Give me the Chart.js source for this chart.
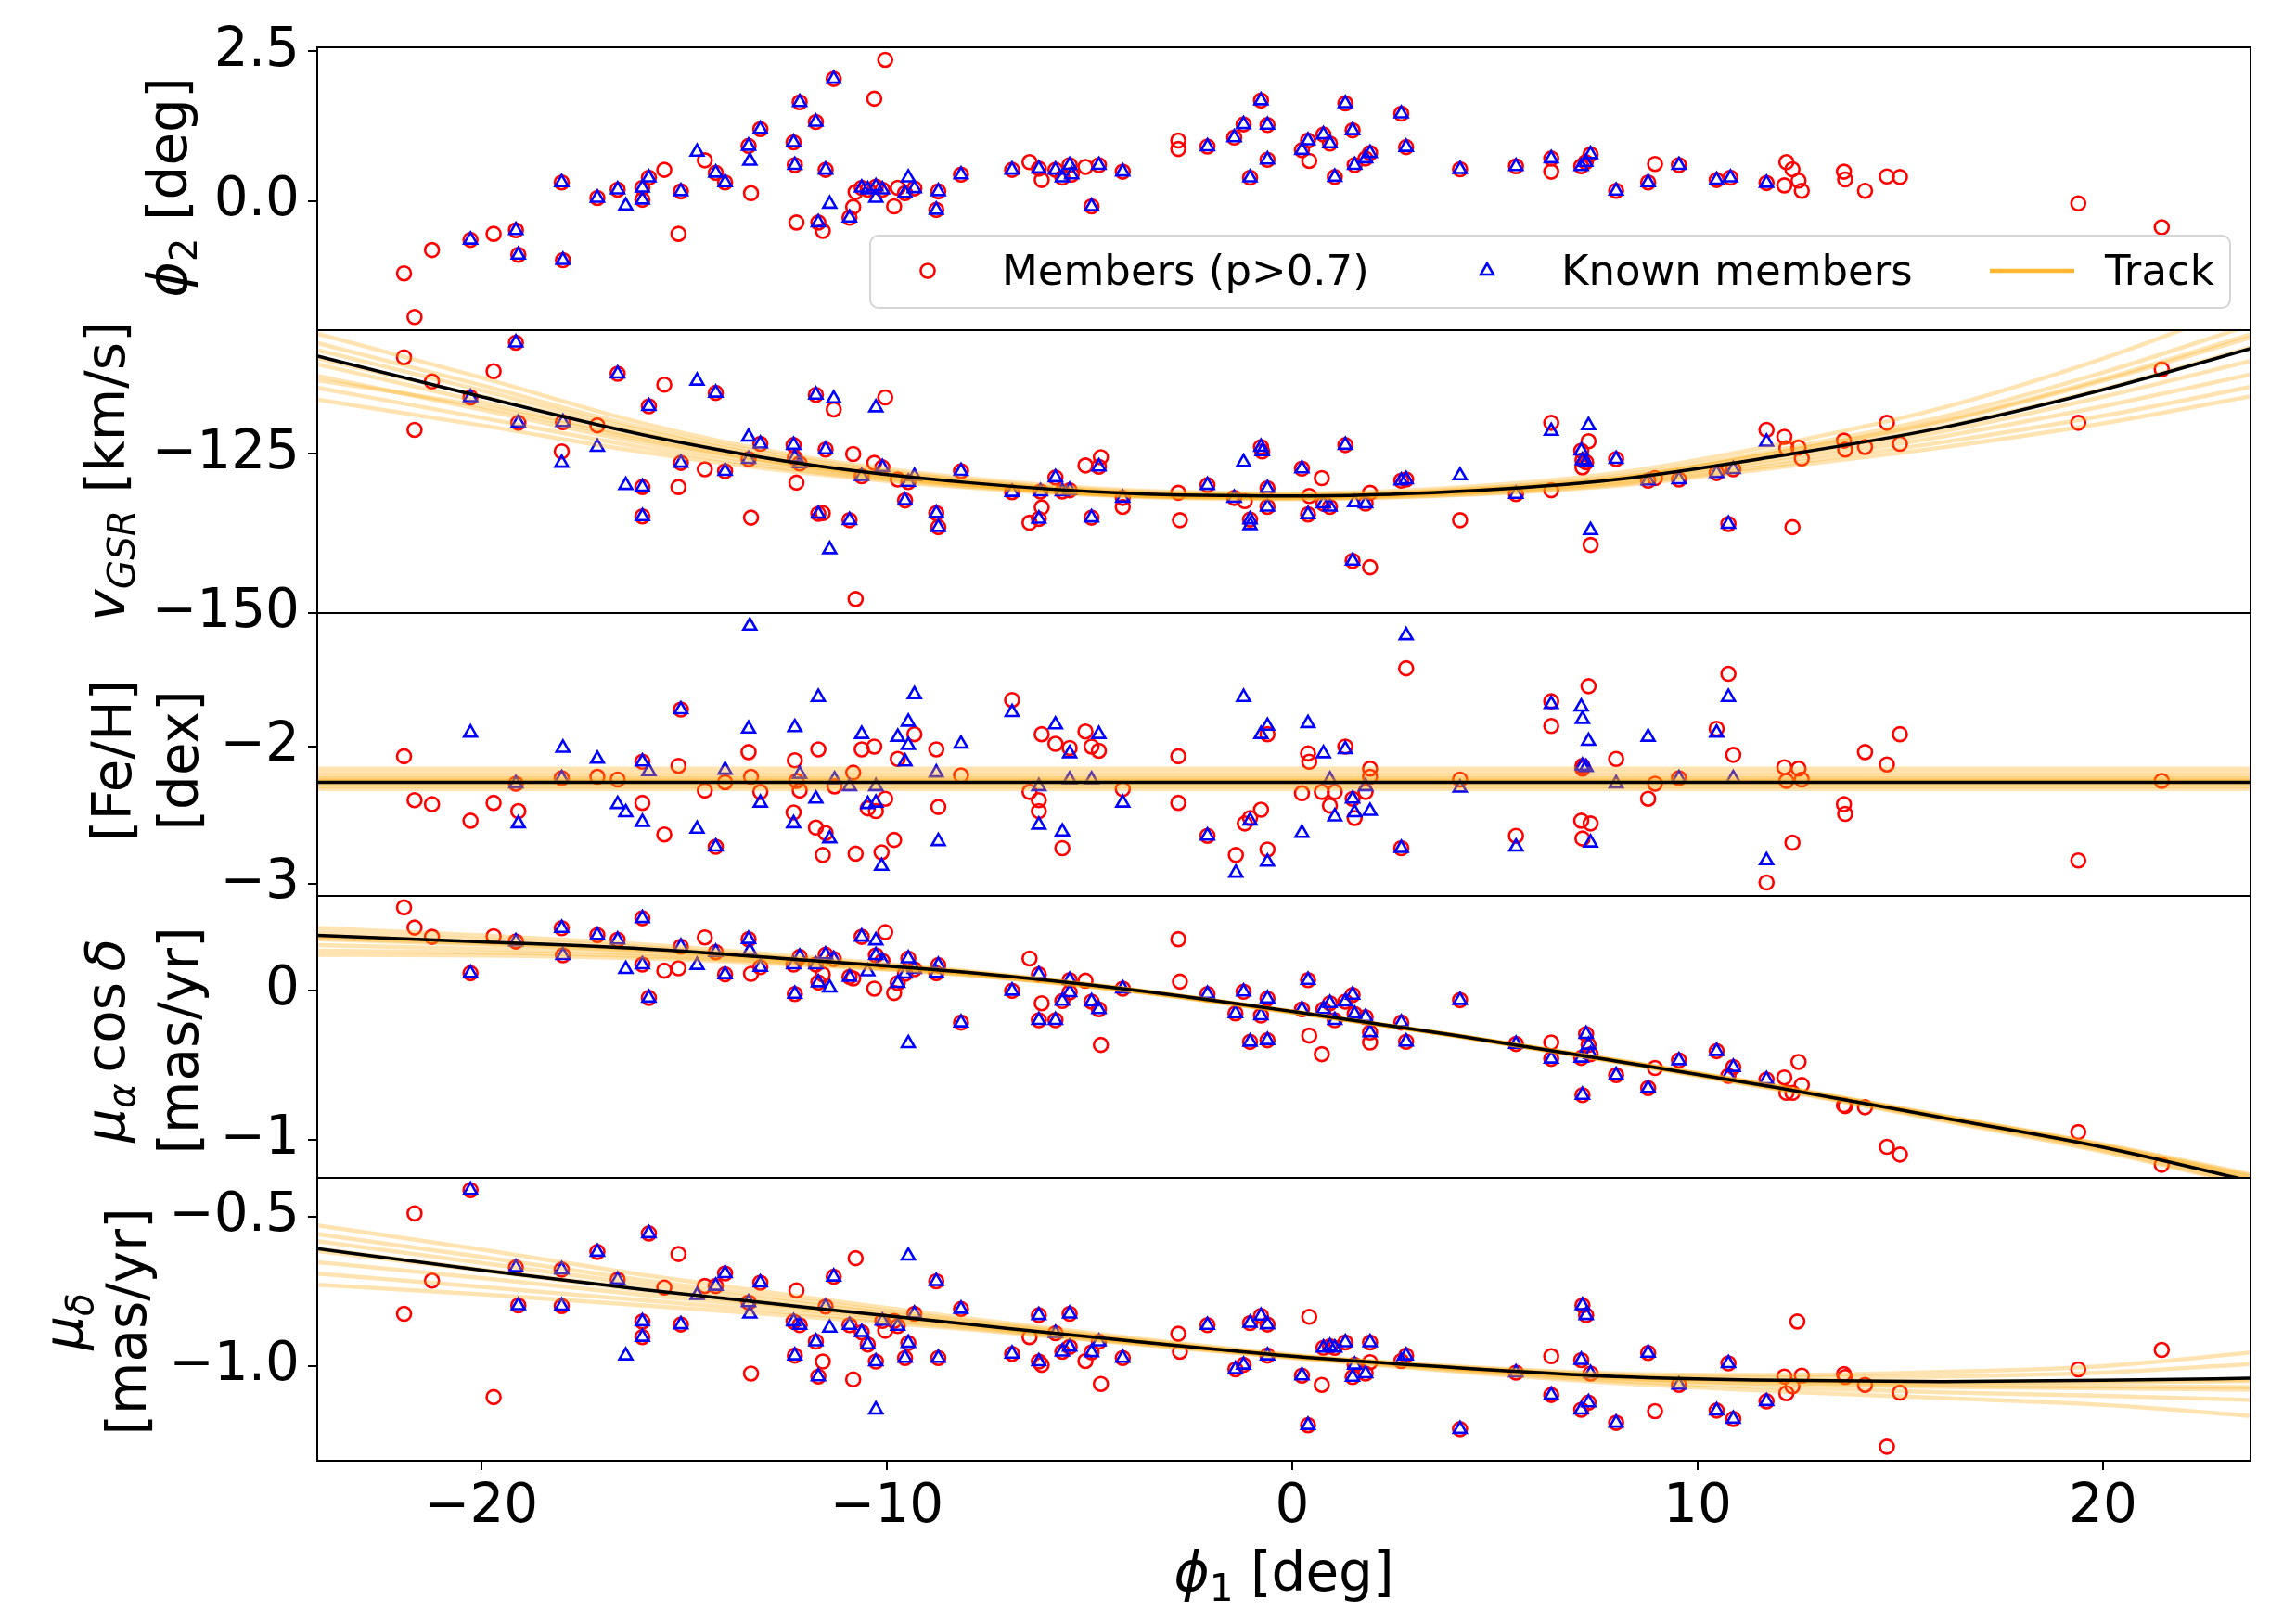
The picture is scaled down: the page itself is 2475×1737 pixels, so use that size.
<!DOCTYPE html>
<html>
<head>
<meta charset="utf-8">
<script src="https://cdn.jsdelivr.net/npm/chart.js@4.4.0/dist/chart.umd.min.js"></script>
<style>
  html, body { margin: 0; padding: 0; background: #fff; }
  body { width: 2475px; height: 1737px; position: relative; overflow: hidden; }
  canvas { position: absolute; left: 0; }
</style>
</head>
<body>
<canvas id="p1"></canvas>
<canvas id="p2"></canvas>
<canvas id="p3"></canvas>
<canvas id="p4"></canvas>
<canvas id="p5"></canvas>
<script>
// ---- data ([phi1, value]) ----
const phi1Ticks = [-20, -10, 0, 10, 20];
const phi1TickLabels = ['\u221220', '\u221210', '0', '10', '20'];
const phi2Ticks = [0, 2.5];
const phi2TickLabels = ['0.0', '2.5'];
const vgsrTicks = [-150, -125];
const vgsrTickLabels = ['\u2212150', '\u2212125'];
const fehTicks = [-3, -2];
const fehTickLabels = ['\u22123', '\u22122'];
const pmraTicks = [-1, 0];
const pmraTickLabels = ['\u22121', '0'];
const pmdecTicks = [-1.0, -0.5];
const pmdecTickLabels = ['\u22121.0', '\u22120.5'];

const phi2Members = [[-21.91,-1.21],[-21.65,-1.94],[-21.22,-0.82],[-20.27,-0.65],[-19.70,-0.55],[-19.15,-0.49],[-19.09,-0.90],[-18.02,0.31],[-17.99,-0.99],[-17.14,0.05],[-16.64,0.19],[-16.03,0.22],[-16.03,0.02],[-15.87,0.39],[-15.49,0.52],[-15.14,-0.55],[-15.08,0.16],[-14.49,0.68],[-14.22,0.47],[-13.99,0.31],[-13.41,0.92],[-13.35,0.13],[-13.12,1.20],[-12.30,0.98],[-12.27,0.60],[-12.23,-0.36],[-12.15,1.65],[-11.75,1.32],[-11.69,-0.36],[-11.58,-0.50],[-11.51,0.52],[-11.31,2.04],[-10.92,-0.28],[-10.83,-0.10],[-10.77,0.15],[-10.62,0.22],[-10.47,0.19],[-10.31,1.71],[-10.27,0.24],[-10.11,0.19],[-10.04,2.36],[-9.82,-0.09],[-9.73,0.22],[-9.55,0.13],[-9.32,0.21],[-8.78,-0.15],[-8.73,0.16],[-8.17,0.44],[-6.91,0.52],[-6.48,0.65],[-6.25,0.54],[-6.18,0.35],[-5.84,0.52],[-5.67,0.39],[-5.49,0.60],[-5.44,0.44],[-5.10,0.57],[-4.95,-0.09],[-4.77,0.60],[-4.18,0.49],[-2.81,1.01],[-2.81,0.87],[-2.09,0.91],[-1.43,1.06],[-1.20,1.28],[-1.04,0.39],[-0.77,1.68],[-0.61,1.27],[-0.61,0.69],
  [0.24,0.85],[0.39,1.01],[0.42,0.67],[0.77,1.11],[0.93,0.96],[1.05,0.40],[1.31,1.63],[1.49,1.18],[1.54,0.60],[1.81,0.71],[1.92,0.80],[2.69,1.46],[2.81,0.90],[4.14,0.53],[5.52,0.58],[6.39,0.71],[6.39,0.49],[7.13,0.58],[7.24,0.65],[7.36,0.78],[7.99,0.17],[8.78,0.31],[8.95,0.62],[9.54,0.60],[10.47,0.35],[10.81,0.39],[11.70,0.30],[12.14,0.26],[12.19,0.65],[12.34,0.53],[12.49,0.34],[12.57,0.17],[13.61,0.49],[13.64,0.36],[14.13,0.17],[14.67,0.41],[14.99,0.40],[19.39,-0.04],[21.45,-0.44]];
const phi2Known = [[-20.27,-0.65],[-19.15,-0.49],[-19.09,-0.90],[-18.02,0.31],[-17.99,-0.99],[-17.14,0.05],[-16.64,0.19],[-16.44,-0.08],[-16.03,0.22],[-16.03,0.02],[-15.87,0.39],[-15.08,0.16],[-14.68,0.82],[-14.22,0.47],[-13.99,0.31],[-13.41,0.92],[-13.38,0.67],[-13.12,1.20],[-12.30,0.98],[-12.27,0.60],[-12.15,1.65],[-11.75,1.32],[-11.69,-0.36],[-11.51,0.52],[-11.41,-0.05],[-11.31,2.04],[-10.92,-0.28],[-10.62,0.22],[-10.47,0.19],[-10.27,0.24],[-10.27,0.05],[-10.11,0.19],[-9.47,0.39],[-9.55,0.13],[-9.32,0.21],[-8.78,-0.15],[-8.73,0.16],[-8.17,0.44],[-6.91,0.52],[-6.25,0.54],[-5.84,0.52],[-5.67,0.39],[-5.49,0.60],[-5.44,0.44],[-4.95,-0.09],[-4.77,0.60],[-4.18,0.49],[-2.09,0.91],[-1.43,1.06],[-1.20,1.28],[-1.04,0.39],[-0.77,1.68],[-0.61,1.27],[-0.61,0.69],
  [0.24,0.85],[0.39,1.01],[0.77,1.11],[0.93,0.96],[1.05,0.40],[1.31,1.63],[1.49,1.18],[1.54,0.60],[1.81,0.71],[1.92,0.80],[2.69,1.46],[2.81,0.90],[4.14,0.53],[5.52,0.58],[6.39,0.71],[7.13,0.58],[7.24,0.65],[7.36,0.78],[7.99,0.17],[8.78,0.31],[9.54,0.60],[10.47,0.35],[10.81,0.39],[11.70,0.30]];

const vgsrMembers = [[-21.91,-109.8],[-21.65,-121.2],[-21.22,-113.6],[-20.27,-116.1],[-19.70,-112.0],[-19.15,-107.5],[-19.09,-120.1],[-18.02,-124.6],[-17.99,-120.0],[-17.14,-120.5],[-16.64,-112.4],[-16.03,-130.2],[-16.03,-134.8],[-15.87,-117.5],[-15.49,-114.1],[-15.14,-130.2],[-15.08,-126.4],[-14.49,-127.4],[-14.22,-115.4],[-13.99,-127.7],[-13.41,-125.8],[-13.35,-135.0],[-13.12,-123.4],[-12.30,-123.6],[-12.27,-125.6],[-12.23,-129.5],[-12.15,-126.5],[-11.75,-115.7],[-11.69,-134.4],[-11.58,-134.3],[-11.51,-124.3],[-11.31,-118.0],[-10.92,-135.4],[-10.83,-125.0],[-10.77,-147.8],[-10.62,-128.5],[-10.31,-126.4],[-10.11,-127.1],[-10.04,-116.1],[-9.73,-129.0],[-9.55,-132.3],[-9.47,-129.4],[-8.78,-134.3],[-8.73,-136.5],[-8.17,-127.7],[-6.91,-131.0],[-6.48,-135.8],[-6.25,-135.2],[-6.21,-130.9],[-6.18,-133.4],[-5.84,-128.7],[-5.67,-130.9],[-5.49,-130.7],[-5.10,-126.8],[-4.95,-135.0],[-4.77,-127.0],[-4.72,-125.5],[-4.18,-131.9],[-4.18,-133.3],[-2.81,-131.1],[-2.77,-135.4],[-2.09,-129.9],[-1.43,-131.9],[-1.17,-132.4],[-1.04,-135.3],[-0.77,-123.9],[-0.74,-124.6],[-0.61,-130.4],[-0.61,-133.3],
  [0.24,-127.3],[0.39,-134.5],[0.42,-131.6],[0.73,-128.8],[0.77,-132.8],[0.93,-133.3],[1.31,-123.6],[1.49,-141.8],[1.81,-132.8],[1.92,-131.1],[1.92,-142.8],[2.69,-129.2],[2.81,-129.0],[4.14,-135.4],[5.52,-131.3],[6.39,-120.1],[6.39,-130.7],[7.13,-124.5],[7.16,-126.0],[7.16,-127.1],[7.25,-126.3],[7.31,-123.0],[7.36,-139.3],[7.99,-125.8],[8.78,-129.2],[8.95,-128.8],[9.54,-129.0],[10.47,-128.0],[10.76,-136.0],[10.88,-127.4],[11.70,-121.2],[12.14,-122.3],[12.19,-124.1],[12.34,-136.5],[12.49,-124.0],[12.57,-125.7],[13.61,-122.9],[13.64,-124.3],[14.13,-123.9],[14.67,-120.1],[14.99,-123.4],[19.39,-120.1],[21.45,-111.7]];
const vgsrKnown = [[-20.27,-116.1],[-19.15,-107.5],[-19.09,-120.1],[-18.02,-126.4],[-17.99,-120.0],[-17.14,-123.9],[-16.64,-112.4],[-16.44,-129.9],[-16.03,-130.2],[-16.03,-134.8],[-15.87,-117.5],[-15.08,-126.4],[-14.68,-113.5],[-14.22,-115.4],[-13.99,-127.7],[-13.41,-122.3],[-13.41,-125.8],[-13.12,-123.4],[-12.30,-123.6],[-12.27,-125.6],[-12.15,-126.5],[-11.75,-115.7],[-11.69,-134.4],[-11.51,-124.3],[-11.41,-140.0],[-11.31,-116.3],[-10.92,-135.4],[-10.62,-128.5],[-10.27,-117.7],[-10.11,-127.1],[-9.55,-132.3],[-9.47,-129.4],[-9.32,-128.5],[-8.78,-134.3],[-8.73,-136.5],[-8.17,-127.7],[-6.91,-131.0],[-6.25,-135.2],[-6.21,-130.9],[-5.84,-128.7],[-5.67,-130.9],[-5.49,-130.7],[-4.95,-135.0],[-4.77,-127.0],[-4.18,-131.9],[-2.09,-129.9],[-1.43,-131.9],[-1.20,-126.3],[-1.04,-135.3],[-1.04,-136.2],[-0.77,-123.9],[-0.74,-124.6],[-0.61,-130.4],[-0.61,-133.3],
  [0.24,-127.3],[0.39,-134.5],[0.77,-132.8],[0.93,-133.3],[1.31,-123.6],[1.49,-141.8],[1.54,-132.6],[1.81,-132.8],[2.69,-129.2],[2.81,-129.0],[4.14,-128.4],[5.52,-131.3],[6.39,-121.4],[7.13,-124.5],[7.16,-126.0],[7.25,-126.3],[7.31,-120.5],[7.36,-137.0],[7.99,-125.8],[8.78,-129.2],[9.54,-129.0],[10.47,-128.0],[10.76,-136.0],[10.88,-127.4],[11.70,-123.1]];

const fehMembers = [[-21.91,-2.07],[-21.65,-2.39],[-21.22,-2.42],[-20.27,-2.54],[-19.70,-2.41],[-19.15,-2.27],[-19.09,-2.47],[-18.02,-2.23],[-17.14,-2.22],[-16.64,-2.24],[-16.03,-2.11],[-16.03,-2.41],[-15.49,-2.64],[-15.08,-1.73],[-15.14,-2.14],[-14.49,-2.32],[-14.22,-2.73],[-13.99,-2.26],[-13.41,-2.04],[-13.35,-2.22],[-13.12,-2.33],[-12.27,-2.10],[-12.23,-2.25],[-12.15,-2.32],[-12.30,-2.48],[-11.75,-2.59],[-11.69,-2.02],[-11.51,-2.63],[-11.58,-2.79],[-11.29,-2.29],[-10.83,-2.19],[-10.62,-2.02],[-10.31,-2.00],[-10.47,-2.45],[-10.27,-2.47],[-10.04,-2.38],[-10.77,-2.78],[-10.13,-2.77],[-9.82,-2.68],[-9.73,-2.09],[-9.32,-1.91],[-8.78,-2.02],[-8.73,-2.44],[-8.17,-2.21],[-6.91,-1.66],[-6.48,-2.33],[-6.18,-1.91],[-5.84,-1.98],[-6.25,-2.39],[-6.25,-2.47],[-5.67,-2.74],[-5.49,-2.01],[-5.10,-1.89],[-4.95,-2.00],[-4.77,-2.03],[-4.18,-2.31],[-2.81,-2.07],[-2.81,-2.41],[-2.09,-2.65],[-1.17,-2.56],[-1.04,-2.52],[-0.77,-2.46],[-1.39,-2.79],[-0.61,-1.91],[-0.61,-2.75],
  [0.39,-2.05],[0.42,-2.11],[0.24,-2.34],[0.73,-2.33],[0.93,-2.43],[1.05,-2.33],[1.31,-2.00],[1.49,-2.38],[1.54,-2.52],[1.81,-2.33],[1.92,-2.16],[1.92,-2.22],[2.81,-1.43],[2.69,-2.74],[4.14,-2.24],[5.52,-2.65],[6.39,-1.67],[6.39,-1.85],[7.31,-1.56],[7.16,-2.14],[7.16,-2.16],[7.13,-2.54],[7.36,-2.56],[7.16,-2.67],[7.99,-2.09],[8.78,-2.38],[8.95,-2.27],[9.54,-2.23],[10.47,-1.87],[10.76,-1.47],[10.88,-2.06],[11.70,-2.99],[12.14,-2.15],[12.19,-2.25],[12.34,-2.70],[12.49,-2.16],[12.57,-2.24],[13.61,-2.42],[13.64,-2.49],[14.13,-2.04],[14.67,-2.13],[14.99,-1.91],[19.39,-2.83],[21.45,-2.25]];
const fehKnown = [[-13.38,-1.12],[-20.27,-1.90],[-19.15,-2.27],[-19.09,-2.56],[-17.99,-2.01],[-18.02,-2.23],[-17.14,-2.09],[-16.64,-2.42],[-16.44,-2.48],[-16.03,-2.11],[-15.87,-2.18],[-16.03,-2.55],[-15.08,-1.73],[-14.68,-2.60],[-14.22,-2.73],[-13.99,-2.17],[-13.41,-1.87],[-13.12,-2.41],[-12.27,-1.86],[-12.15,-2.20],[-12.30,-2.56],[-11.75,-2.38],[-11.69,-1.64],[-11.41,-2.67],[-11.29,-2.24],[-10.92,-2.29],[-10.62,-1.91],[-10.47,-2.42],[-10.27,-2.29],[-10.27,-2.41],[-10.13,-2.87],[-9.73,-1.93],[-9.55,-2.11],[-9.47,-1.82],[-9.47,-1.99],[-9.32,-1.62],[-8.78,-2.19],[-8.73,-2.69],[-8.17,-1.98],[-6.91,-1.75],[-5.84,-1.84],[-6.25,-2.29],[-6.25,-2.57],[-5.67,-2.62],[-5.49,-2.05],[-5.49,-2.24],[-4.77,-1.91],[-4.95,-2.24],[-4.18,-2.41],[-2.09,-2.65],[-1.20,-1.64],[-1.04,-2.54],[-1.39,-2.92],[-0.77,-1.91],[-0.61,-1.85],[-0.61,-2.84],
  [0.39,-1.83],[0.24,-2.63],[0.77,-2.05],[1.05,-2.51],[1.31,-2.02],[0.93,-2.24],[1.49,-2.38],[1.54,-2.48],[1.81,-2.29],[1.92,-2.47],[2.81,-1.19],[2.69,-2.74],[4.14,-2.30],[5.52,-2.73],[6.39,-1.69],[7.13,-1.71],[7.16,-1.80],[7.31,-1.96],[7.16,-2.14],[7.25,-2.15],[7.36,-2.70],[7.99,-2.27],[8.78,-1.93],[9.54,-2.23],[10.47,-1.90],[10.76,-1.64],[10.88,-2.23],[11.70,-2.83]];

const pmraMembers = [[-21.91,0.557],[-21.65,0.422],[-21.22,0.360],[-20.27,0.116],[-19.70,0.364],[-19.15,0.329],[-18.02,0.418],[-17.99,0.236],[-17.14,0.371],[-16.64,0.340],[-16.03,0.484],[-16.03,0.174],[-15.87,-0.049],[-15.49,0.133],[-15.14,0.149],[-15.08,0.294],[-14.49,0.356],[-14.22,0.257],[-13.99,0.108],[-13.41,0.344],[-13.35,0.112],[-13.12,0.157],[-12.30,0.174],[-12.27,-0.023],[-12.15,0.226],[-11.75,0.174],[-11.69,0.054],[-11.58,0.108],[-11.51,0.240],[-11.31,0.211],[-10.92,0.091],[-10.83,0.081],[-10.62,0.360],[-10.31,0.013],[-10.27,0.236],[-10.04,0.391],[-10.11,0.199],[-9.82,-0.016],[-9.73,0.050],[-9.55,0.112],[-9.47,0.215],[-9.32,0.143],[-8.78,0.116],[-8.73,0.170],[-8.17,-0.215],[-6.91,-0.002],[-6.48,0.215],[-6.25,0.108],[-6.25,-0.199],[-6.18,-0.085],[-5.84,-0.199],[-5.67,-0.070],[-5.49,0.070],[-5.49,-0.012],[-5.10,0.066],[-4.95,-0.074],[-4.77,-0.126],[-4.72,-0.364],[-4.18,0.013],[-2.81,0.344],[-2.77,0.060],[-2.09,-0.023],[-1.40,-0.153],[-1.20,-0.008],[-1.04,-0.344],[-0.77,-0.168],[-0.61,-0.054],[-0.61,-0.333],
  [0.24,-0.126],[0.39,0.070],[0.42,-0.302],[0.73,-0.426],[0.77,-0.126],[0.93,-0.085],[1.05,-0.199],[1.31,-0.074],[1.49,-0.029],[1.54,-0.157],[1.81,-0.178],[1.92,-0.281],[1.92,-0.348],[2.69,-0.215],[2.81,-0.343],[4.14,-0.064],[5.52,-0.358],[6.39,-0.348],[6.39,-0.457],[7.13,-0.451],[7.16,-0.700],[7.25,-0.292],[7.31,-0.364],[7.36,-0.426],[7.99,-0.567],[8.78,-0.654],[8.95,-0.519],[9.54,-0.468],[10.47,-0.406],[10.76,-0.571],[10.88,-0.513],[11.70,-0.596],[12.14,-0.582],[12.19,-0.685],[12.34,-0.685],[12.49,-0.478],[12.57,-0.633],[13.61,-0.768],[13.64,-0.774],[14.13,-0.782],[14.67,-1.047],[14.99,-1.099],[19.39,-0.948],[21.45,-1.167]];
const pmraKnown = [[-20.27,0.116],[-19.15,0.329],[-18.02,0.418],[-17.99,0.236],[-17.14,0.371],[-16.64,0.340],[-16.44,0.143],[-16.03,0.484],[-16.03,0.174],[-15.87,-0.049],[-15.08,0.294],[-14.68,0.170],[-14.22,0.257],[-13.99,0.108],[-13.41,0.344],[-13.38,0.267],[-13.12,0.157],[-12.30,0.174],[-12.27,-0.023],[-12.15,0.226],[-11.75,0.174],[-11.69,0.054],[-11.51,0.240],[-11.41,0.019],[-11.31,0.211],[-10.92,0.091],[-10.62,0.360],[-10.47,0.128],[-10.27,0.335],[-10.27,0.236],[-10.11,0.199],[-9.73,0.050],[-9.47,-0.354],[-9.55,0.112],[-9.47,0.215],[-9.32,0.143],[-8.78,0.116],[-8.73,0.170],[-8.17,-0.215],[-6.91,-0.002],[-6.25,0.108],[-6.25,-0.199],[-5.84,-0.199],[-5.67,-0.070],[-5.49,0.070],[-5.49,-0.012],[-4.95,-0.074],[-4.77,-0.126],[-4.18,0.013],[-2.09,-0.023],[-1.40,-0.153],[-1.20,-0.008],[-1.04,-0.344],[-0.77,-0.168],[-0.61,-0.054],[-0.61,-0.333],
  [0.24,-0.126],[0.39,0.070],[0.77,-0.126],[0.93,-0.085],[1.05,-0.199],[1.31,-0.074],[1.49,-0.029],[1.54,-0.157],[1.81,-0.178],[1.92,-0.281],[2.69,-0.215],[2.81,-0.343],[4.14,-0.064],[5.52,-0.358],[6.39,-0.457],[7.13,-0.451],[7.16,-0.700],[7.25,-0.292],[7.31,-0.364],[7.36,-0.426],[7.99,-0.567],[8.78,-0.654],[9.54,-0.468],[10.47,-0.406],[10.76,-0.571],[10.88,-0.513],[11.70,-0.596]];

const pmdecMembers = [[-21.91,-0.825],[-21.65,-0.489],[-21.22,-0.714],[-20.27,-0.411],[-19.70,-1.104],[-19.15,-0.670],[-19.09,-0.797],[-18.02,-0.677],[-18.02,-0.799],[-17.14,-0.618],[-16.64,-0.711],[-16.03,-0.851],[-16.03,-0.903],[-15.87,-0.556],[-15.49,-0.737],[-15.14,-0.625],[-15.08,-0.861],[-14.49,-0.732],[-14.22,-0.732],[-13.99,-0.690],[-13.41,-0.787],[-13.35,-1.025],[-13.12,-0.721],[-12.30,-0.851],[-12.27,-0.965],[-12.23,-0.747],[-12.15,-0.863],[-11.75,-0.918],[-11.69,-1.035],[-11.58,-0.985],[-11.51,-0.801],[-11.31,-0.701],[-10.92,-0.863],[-10.83,-1.045],[-10.77,-0.639],[-10.62,-0.887],[-10.47,-0.928],[-10.27,-0.985],[-10.11,-0.849],[-10.04,-0.882],[-9.82,-0.849],[-9.73,-0.866],[-9.55,-0.973],[-9.47,-0.923],[-9.32,-0.825],[-8.78,-0.716],[-8.73,-0.973],[-8.17,-0.809],[-6.91,-0.959],[-6.48,-0.903],[-6.25,-0.830],[-6.25,-0.985],[-6.18,-0.996],[-5.84,-0.890],[-5.67,-0.952],[-5.49,-0.825],[-5.49,-0.936],[-5.10,-0.983],[-4.95,-0.954],[-4.77,-0.918],[-4.72,-1.060],[-4.18,-0.973],[-2.81,-0.892],[-2.77,-0.952],[-2.09,-0.863],[-1.40,-1.011],[-1.20,-0.996],[-1.04,-0.856],[-0.77,-0.832],[-0.61,-0.861],[-0.61,-0.965],
  [0.42,-0.835],[0.39,-1.198],[0.24,-1.032],[0.73,-1.063],[0.77,-0.939],[0.93,-0.934],[1.05,-0.939],[1.31,-0.921],[1.49,-1.037],[1.54,-0.996],[1.81,-1.025],[1.92,-0.921],[1.92,-0.987],[2.69,-0.983],[2.81,-0.965],[4.14,-1.211],[5.52,-1.022],[6.39,-0.967],[6.39,-1.097],[7.16,-0.797],[7.25,-0.830],[7.13,-0.980],[7.36,-1.025],[7.13,-1.146],[7.31,-1.122],[7.99,-1.190],[8.78,-0.956],[8.95,-1.151],[9.54,-1.063],[10.47,-1.149],[10.76,-0.991],[10.88,-1.177],[11.70,-1.118],[12.14,-1.035],[12.19,-1.091],[12.34,-1.068],[12.46,-0.851],[12.57,-1.032],[13.61,-1.027],[13.64,-1.037],[14.13,-1.063],[14.67,-1.270],[14.99,-1.089],[19.39,-1.011],[21.45,-0.946]];
const pmdecKnown = [[-20.27,-0.411],[-19.15,-0.670],[-19.09,-0.797],[-18.02,-0.677],[-18.02,-0.799],[-17.14,-0.618],[-16.64,-0.711],[-16.44,-0.965],[-16.03,-0.851],[-16.03,-0.903],[-15.87,-0.556],[-15.08,-0.861],[-14.68,-0.763],[-14.22,-0.732],[-13.99,-0.690],[-13.41,-0.787],[-13.38,-0.825],[-13.12,-0.721],[-12.30,-0.851],[-12.27,-0.965],[-12.15,-0.863],[-11.75,-0.918],[-11.69,-1.035],[-11.51,-0.801],[-11.41,-0.872],[-11.31,-0.701],[-10.92,-0.863],[-10.62,-0.887],[-10.47,-0.928],[-10.27,-1.146],[-10.27,-0.985],[-10.11,-0.849],[-9.73,-0.866],[-9.47,-0.631],[-9.55,-0.973],[-9.47,-0.923],[-9.32,-0.825],[-8.78,-0.716],[-8.73,-0.973],[-8.17,-0.809],[-6.91,-0.959],[-6.25,-0.830],[-6.25,-0.985],[-5.84,-0.890],[-5.67,-0.952],[-5.49,-0.825],[-5.49,-0.936],[-4.95,-0.954],[-4.77,-0.918],[-4.18,-0.973],[-2.09,-0.863],[-1.40,-1.011],[-1.20,-0.996],[-1.04,-0.856],[-0.77,-0.832],[-0.61,-0.861],[-0.61,-0.965],
  [0.39,-1.198],[0.24,-1.032],[0.77,-0.939],[0.93,-0.934],[1.05,-0.939],[1.31,-0.921],[1.49,-1.037],[1.54,-0.996],[1.81,-1.025],[1.92,-0.921],[2.69,-0.983],[2.81,-0.965],[4.14,-1.211],[5.52,-1.022],[6.39,-1.097],[7.16,-0.797],[7.25,-0.830],[7.13,-0.980],[7.36,-1.025],[7.13,-1.146],[7.31,-1.122],[7.99,-1.190],[8.78,-0.956],[9.54,-1.063],[10.47,-1.149],[10.76,-0.991],[10.88,-1.177],[11.70,-1.118]];

// track: best fit (black) and posterior samples (orange), read at knots
const trackPhi1 = [-25, -20, -16, -12, -8, -4, 0, 4, 8, 12, 16, 20, 24];
const vgsrTrack = [-108.1, -116.0, -122.0, -126.6, -129.5, -131.2, -131.6, -130.9, -129.0, -125.3, -120.9, -114.9, -107.8];
const vgsrSamples = [
  [-104.5, -113.0, -120.2, -125.5, -128.8, -130.7, -131.2, -130.3, -128.0, -123.5, -117.8, -110.0, -100.5],
  [-106.0, -114.2, -120.9, -125.9, -129.1, -130.9, -131.4, -130.6, -128.5, -124.3, -119.2, -112.2, -104.0],
  [-107.2, -115.0, -121.4, -126.3, -129.3, -131.1, -131.5, -130.8, -128.8, -124.8, -120.0, -113.5, -106.0],
  [-108.6, -115.9, -121.9, -126.6, -129.5, -131.2, -131.6, -130.9, -129.0, -125.3, -120.8, -114.8, -107.6],
  [-109.5, -116.8, -122.5, -126.9, -129.7, -131.4, -131.8, -131.1, -129.3, -125.7, -121.5, -116.0, -109.8],
  [-111.5, -118.0, -123.3, -127.3, -129.9, -131.5, -131.9, -131.2, -129.5, -126.2, -122.3, -117.5, -112.0],
  [-113.5, -119.3, -124.0, -127.7, -130.1, -131.6, -132.0, -131.4, -129.8, -126.7, -123.2, -119.0, -114.0],
  [-115.5, -120.5, -124.7, -128.0, -130.3, -131.7, -132.1, -131.5, -130.0, -127.1, -124.0, -120.2, -115.5],
  [-112.5, -117.5, -122.8, -127.0, -129.8, -131.5, -131.8, -130.9, -128.8, -124.7, -119.8, -113.2, -105.5]
];
const fehTrackPhi1 = [-25, 24];
const fehTrack = [-2.26, -2.26];
const fehSamples = [[-2.16, -2.16], [-2.19, -2.19], [-2.21, -2.21], [-2.23, -2.23], [-2.24, -2.24], [-2.25, -2.25], [-2.26, -2.26], [-2.27, -2.27], [-2.29, -2.29], [-2.31, -2.31]];
const pmraTrack = [0.38, 0.327, 0.28, 0.204, 0.121, 0.006, -0.14, -0.30, -0.473, -0.652, -0.85, -1.05, -1.30];
const pmraSamples = [
  [0.43, 0.37, 0.31, 0.225, 0.13, 0.01, -0.14, -0.305, -0.48, -0.665, -0.87, -1.08, -1.33],
  [0.40, 0.345, 0.29, 0.21, 0.125, 0.008, -0.14, -0.30, -0.475, -0.655, -0.855, -1.055, -1.30],
  [0.375, 0.325, 0.278, 0.203, 0.12, 0.006, -0.141, -0.30, -0.473, -0.652, -0.85, -1.05, -1.29],
  [0.35, 0.31, 0.265, 0.195, 0.115, 0.003, -0.143, -0.298, -0.468, -0.645, -0.84, -1.035, -1.26],
  [0.31, 0.28, 0.245, 0.185, 0.11, 0.0, -0.145, -0.298, -0.465, -0.64, -0.835, -1.03, -1.25],
  [0.27, 0.255, 0.23, 0.178, 0.106, -0.002, -0.146, -0.30, -0.468, -0.645, -0.84, -1.04, -1.27],
  [0.24, 0.235, 0.215, 0.17, 0.103, -0.004, -0.147, -0.302, -0.472, -0.65, -0.848, -1.05, -1.29],
  [0.36, 0.315, 0.27, 0.20, 0.12, 0.005, -0.141, -0.302, -0.476, -0.66, -0.862, -1.07, -1.32]
];
const pmdecTrack = [-0.59, -0.679, -0.744, -0.803, -0.860, -0.916, -0.967, -1.005, -1.035, -1.048, -1.052, -1.048, -1.04];
const pmdecSamples = [
  [-0.51, -0.61, -0.695, -0.77, -0.84, -0.905, -0.962, -1.0, -1.025, -1.03, -1.02, -1.0, -0.95],
  [-0.54, -0.635, -0.713, -0.782, -0.848, -0.91, -0.965, -1.003, -1.03, -1.038, -1.035, -1.022, -0.99],
  [-0.565, -0.655, -0.727, -0.792, -0.853, -0.913, -0.966, -1.006, -1.036, -1.05, -1.056, -1.055, -1.05],
  [-0.59, -0.677, -0.742, -0.802, -0.859, -0.916, -0.967, -1.005, -1.035, -1.048, -1.052, -1.05, -1.045],
  [-0.64, -0.705, -0.762, -0.813, -0.866, -0.92, -0.969, -1.01, -1.043, -1.06, -1.07, -1.075, -1.08],
  [-0.68, -0.735, -0.78, -0.825, -0.872, -0.923, -0.971, -1.014, -1.05, -1.072, -1.088, -1.10, -1.115],
  [-0.72, -0.76, -0.797, -0.835, -0.877, -0.925, -0.973, -1.018, -1.057, -1.085, -1.107, -1.13, -1.17],
  [-0.60, -0.68, -0.747, -0.806, -0.862, -0.918, -0.968, -1.008, -1.04, -1.057, -1.065, -1.068, -1.07]
];

// ---- layout ----
const W = 2475, H = 1737;
const plotLeft = 342, plotRight = 2426;
const panelTop = [51, 356, 661, 966, 1270];
const panelBottom = [356, 661, 966, 1270, 1575];
const PAD = 45;
const FONT = '"DejaVu Sans", sans-serif';
const ORANGE = 'rgba(255,165,0,0.3)';

Chart.defaults.font.family = FONT;
Chart.defaults.color = '#000';

function pts(arr) { return arr.map(p => ({x: p[0], y: p[1]})); }
function curve(xs, ys) { return xs.map((x, i) => ({x: x, y: ys[i]})); }

// text with italic / subscript pieces, optionally rotated
function drawRich(ctx, segs, cx, cy, size, rotate) {
  ctx.save();
  ctx.translate(cx, cy);
  if (rotate) ctx.rotate(-Math.PI / 2);
  ctx.fillStyle = '#000';
  ctx.textBaseline = 'alphabetic';
  let total = 0;
  const parts = segs.map(s => {
    const fs = s.sub ? size * 0.7 : size;
    const font = (s.it ? 'italic ' : '') + fs + 'px ' + FONT;
    ctx.font = font;
    const w = ctx.measureText(s.t).width;
    total += w;
    return {s: s, font: font, w: w};
  });
  let x = -total / 2;
  const base = size * 0.32;
  parts.forEach(p => {
    ctx.font = p.font;
    ctx.textAlign = 'left';
    ctx.fillText(p.s.t, x, base + (p.s.sub ? size * 0.2 : 0));
    x += p.w;
  });
  ctx.restore();
}

const framePlugin = {
  id: 'frame',
  afterDraw(chart) {
    const a = chart.chartArea, ctx = chart.ctx;
    ctx.save();
    ctx.strokeStyle = '#000';
    ctx.lineWidth = 2;
    ctx.strokeRect(a.left, a.top, a.right - a.left, a.bottom - a.top);
    ctx.restore();
  }
};

function labelPlugin(lines, canvasTop) {
  return {
    id: 'ylabels',
    afterDraw(chart) {
      lines.forEach(l => drawRich(chart.ctx, l.segs, l.cx, l.cy - canvasTop, 58, l.rot));
    }
  };
}

function legendPlugin(canvasTop) {
  return {
    id: 'legendBox',
    afterDraw(chart) {
      const ctx = chart.ctx;
      const y = 292 - canvasTop;
      ctx.save();
      ctx.beginPath();
      ctx.roundRect(938, 254 - canvasTop, 2404 - 938, 332 - 254, 9);
      ctx.fillStyle = 'rgba(255,255,255,0.8)';
      ctx.fill();
      ctx.strokeStyle = '#d5d5d5';
      ctx.lineWidth = 2;
      ctx.stroke();
      // members marker
      ctx.beginPath();
      ctx.arc(1000, y, 7.5, 0, Math.PI * 2);
      ctx.strokeStyle = '#ff0000';
      ctx.lineWidth = 2.6;
      ctx.stroke();
      // known marker
      ctx.beginPath();
      for (let k = 0; k < 3; k++) {
        const a = k * 2 * Math.PI / 3;
        const px = 1603 + Math.sin(a) * 8, py = y - Math.cos(a) * 8;
        if (k === 0) ctx.moveTo(px, py); else ctx.lineTo(px, py);
      }
      ctx.closePath();
      ctx.strokeStyle = '#0000ff';
      ctx.stroke();
      // track line
      ctx.beginPath();
      ctx.moveTo(2145, y);
      ctx.lineTo(2236, y);
      ctx.strokeStyle = 'rgba(255,165,0,0.8)';
      ctx.lineWidth = 4.5;
      ctx.stroke();
      ctx.fillStyle = '#000';
      ctx.font = '45px ' + FONT;
      ctx.textBaseline = 'alphabetic';
      ctx.fillText('Members (p>0.7)', 1080, 307 - canvasTop);
      ctx.fillText('Known members', 1683, 307 - canvasTop);
      ctx.fillText('Track', 2269, 307 - canvasTop);
      ctx.restore();
    }
  };
}

function xTitlePlugin(canvasTop) {
  return {
    id: 'xtitle',
    afterDraw(chart) {
      drawRich(chart.ctx, [{t: '\u03d5', it: true}, {t: '1', sub: true}, {t: ' [deg]'}], 1384, 1696 - canvasTop, 58, false);
    }
  };
}

function makePanel(i, o) {
  const last = i === 4;
  const top = panelTop[i] - PAD;
  const h = last ? H - top : panelBottom[i] - panelTop[i] + 2 * PAD;
  const cv = document.getElementById('p' + (i + 1));
  cv.width = W; cv.height = h;
  cv.style.top = top + 'px';
  cv.style.width = W + 'px'; cv.style.height = h + 'px';

  const datasets = [];
  if (o.track) {
    datasets.push({label: 'best', data: curve(o.trackX, o.track), showLine: true, borderColor: '#000', borderWidth: 3.5,
      pointRadius: 0, cubicInterpolationMode: 'monotone', clip: 0});
    o.samples.forEach(s => datasets.push({label: 'Track', data: curve(o.trackX, s), showLine: true, borderColor: ORANGE,
      borderWidth: 4.5, pointRadius: 0, cubicInterpolationMode: 'monotone', clip: 0}));
  }
  datasets.push({label: 'Known members', data: pts(o.known), pointStyle: 'triangle', pointRadius: 8,
    pointBorderColor: '#0000ff', pointBackgroundColor: 'rgba(0,0,0,0)', pointBorderWidth: 2.6, clip: 0});
  datasets.push({label: 'Members (p>0.7)', data: pts(o.members), pointStyle: 'circle', pointRadius: 7.5,
    pointBorderColor: '#ff0000', pointBackgroundColor: 'rgba(0,0,0,0)', pointBorderWidth: 2.6, clip: 0});

  const plugins = [framePlugin, labelPlugin(o.labels, top)];
  if (i === 0) plugins.push(legendPlugin(top));
  if (last) plugins.push(xTitlePlugin(top));

  new Chart(cv, {
    type: 'scatter',
    data: {datasets: datasets},
    options: {
      responsive: false,
      animation: false,
      devicePixelRatio: 1,
      events: [],
      layout: {padding: {left: 0, right: W - plotRight, top: PAD, bottom: last ? 0 : PAD}},
      plugins: {legend: {display: false}, tooltip: {enabled: false}},
      scales: {
        x: {
          type: 'linear', min: -24.05, max: 23.64, display: last,
          afterBuildTicks: s => { s.ticks = phi1Ticks.map(v => ({value: v})); },
          afterFit: s => { s.height = last ? H - panelBottom[4] : 0; },
          grid: {drawOnChartArea: false, drawTicks: true, tickLength: 10, color: '#000', lineWidth: 2},
          border: {display: false},
          ticks: {autoSkip: false, maxRotation: 0, padding: 6, font: {size: 58},
            callback: (v, idx) => phi1TickLabels[idx]}
        },
        y: {
          type: 'linear', min: o.min, max: o.max,
          afterBuildTicks: s => { s.ticks = o.ticks.map(v => ({value: v})); },
          afterFit: s => { s.width = plotLeft; },
          grid: {drawOnChartArea: false, drawTicks: true, tickLength: 10, color: '#000', lineWidth: 2},
          border: {display: false},
          ticks: {autoSkip: false, padding: 9, font: {size: 58},
            callback: (v, idx) => o.tickLabels[idx]}
        }
      }
    },
    plugins: plugins
  });
}

makePanel(0, {min: -2.160, max: 2.569, ticks: phi2Ticks, tickLabels: phi2TickLabels,
  members: phi2Members, known: phi2Known,
  labels: [{segs: [{t: '\u03d5', it: true}, {t: '2', sub: true}, {t: ' [deg]'}], cx: 182, cy: 202, rot: true}]});

makePanel(1, {min: -150.0, max: -105.54, ticks: vgsrTicks, tickLabels: vgsrTickLabels,
  members: vgsrMembers, known: vgsrKnown, track: vgsrTrack, trackX: trackPhi1, samples: vgsrSamples,
  labels: [{segs: [{t: 'v', it: true}, {t: 'GSR', it: true, sub: true}, {t: ' [km/s]'}], cx: 115, cy: 508, rot: true}]});

makePanel(2, {min: -3.088, max: -1.027, ticks: fehTicks, tickLabels: fehTickLabels,
  members: fehMembers, known: fehKnown, track: fehTrack, trackX: fehTrackPhi1, samples: fehSamples,
  labels: [{segs: [{t: '[Fe/H]'}], cx: 122, cy: 820, rot: true},
           {segs: [{t: '[dex]'}], cx: 194, cy: 820, rot: true}]});

makePanel(3, {min: -1.255, max: 0.634, ticks: pmraTicks, tickLabels: pmraTickLabels,
  members: pmraMembers, known: pmraKnown, track: pmraTrack, trackX: trackPhi1, samples: pmraSamples,
  labels: [{segs: [{t: '\u03bc', it: true}, {t: '\u03b1', it: true, sub: true}, {t: '\u2009cos\u2009'}, {t: '\u03b4', it: true}], cx: 115, cy: 1122, rot: true},
           {segs: [{t: '[mas/yr]'}], cx: 194, cy: 1122, rot: true}]});

makePanel(4, {min: -1.317, max: -0.370, ticks: pmdecTicks, tickLabels: pmdecTickLabels,
  members: pmdecMembers, known: pmdecKnown, track: pmdecTrack, trackX: trackPhi1, samples: pmdecSamples,
  labels: [{segs: [{t: '\u03bc', it: true}, {t: '\u03b4', it: true, sub: true}], cx: 70, cy: 1425, rot: true},
           {segs: [{t: '[mas/yr]'}], cx: 138, cy: 1425, rot: true}]});
</script>
</body>
</html>
